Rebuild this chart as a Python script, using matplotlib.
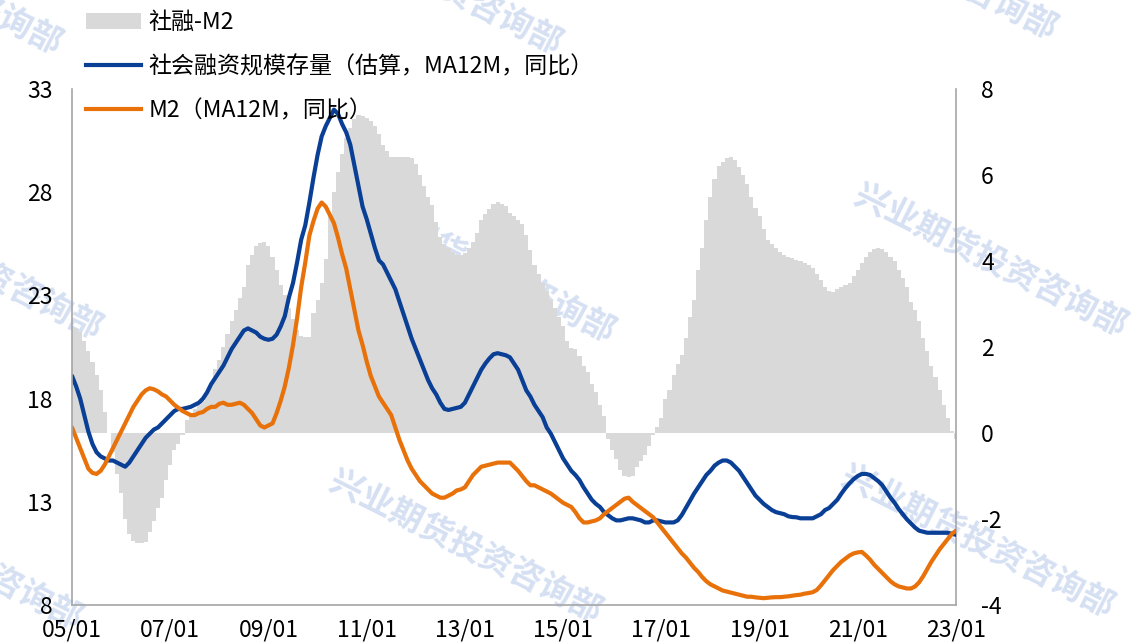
import matplotlib
matplotlib.use("Agg")
import matplotlib.pyplot as plt
from matplotlib.patches import Patch
from matplotlib.lines import Line2D
import numpy as np

plt.rcParams['font.family'] = ['Noto Sans CJK SC', 'DejaVu Sans']
plt.rcParams['axes.unicode_minus'] = False

# Monthly data 2005-01 .. 2023-01
tsf_minus_m2 = [
    2.5, 2.45, 2.35, 2.15, 1.9, 1.65, 1.35, 1.0, 0.5, 0.0, -0.45, -0.95,
    -1.4, -2.0, -2.35, -2.5, -2.56, -2.55, -2.53, -2.3, -2.05, -1.74, -1.5, -1.1,
    -0.75, -0.4, -0.25, -0.05, 0.3, 0.45, 0.55, 0.65, 0.75, 0.95, 1.1, 1.5,
    1.7, 2.0, 2.3, 2.6, 2.85, 3.14, 3.4, 3.9, 4.14, 4.35, 4.42, 4.44,
    4.35, 4.1, 3.8, 3.45, 3.2, 2.9, 2.65, 2.4, 2.25, 2.23, 2.23, 2.8,
    3.1, 3.5, 4.05, 5.1, 5.6, 6.07, 6.5, 6.85, 7.1, 7.3, 7.4, 7.38,
    7.33, 7.25, 7.15, 6.95, 6.7, 6.55, 6.42, 6.42, 6.42, 6.42, 6.42, 6.4,
    6.25, 6.0, 5.75, 5.5, 5.3, 4.9, 4.55, 4.4, 4.3, 4.2, 4.14, 4.15,
    4.19, 4.3, 4.44, 4.65, 4.95, 5.1, 5.22, 5.32, 5.37, 5.33, 5.28, 5.12,
    5.05, 4.95, 4.85, 4.6, 4.25, 3.9, 3.7, 3.5, 3.3, 3.1, 2.9, 2.7,
    2.5, 2.15, 1.98, 1.95, 1.8, 1.55, 1.42, 1.15, 0.95, 0.65, 0.4, -0.15,
    -0.4, -0.6, -0.85, -1.0, -1.02, -1.0, -0.8, -0.65, -0.5, -0.3, -0.05, 0.15,
    0.35, 0.8, 1.0, 1.35, 1.6, 1.81, 2.2, 2.7, 3.1, 3.8, 4.3, 4.95,
    5.5, 5.9, 6.2, 6.3, 6.4, 6.42, 6.35, 6.18, 6.0, 5.8, 5.5, 5.23,
    5.05, 4.75, 4.5, 4.4, 4.3, 4.22, 4.15, 4.1, 4.07, 4.03, 4.0, 3.95,
    3.9, 3.84, 3.7, 3.55, 3.4, 3.3, 3.28, 3.35, 3.4, 3.44, 3.5, 3.65,
    3.8, 3.95, 4.1, 4.2, 4.28, 4.3, 4.27, 4.2, 4.1, 4.0, 3.8, 3.6,
    3.4, 3.05, 2.85, 2.6, 2.2, 1.9, 1.55, 1.3, 1.0, 0.65, 0.35, 0.05,
    -0.15,
]

tsf_stock = [
    19.1, 18.6, 18.0, 17.2, 16.4, 15.8, 15.4, 15.2, 15.1, 15.0, 15.0, 14.9,
    14.8, 14.7, 14.9, 15.2, 15.5, 15.8, 16.1, 16.3, 16.5, 16.6, 16.8, 17.0,
    17.2, 17.4, 17.5, 17.5, 17.55, 17.6, 17.7, 17.8, 18.0, 18.3, 18.7, 19.0,
    19.3, 19.6, 20.0, 20.4, 20.7, 21.0, 21.3, 21.4, 21.3, 21.2, 21.0, 20.9,
    20.85, 20.9, 21.1, 21.5, 22.0, 22.9, 23.6, 24.6, 25.7, 26.4, 27.5, 28.7,
    29.8, 30.7, 31.2, 31.6, 32.0, 31.8, 31.3, 30.9, 30.3, 29.3, 28.3, 27.3,
    26.7, 26.0, 25.3, 24.7, 24.5, 24.1, 23.7, 23.3, 22.7, 22.1, 21.5, 20.9,
    20.4, 19.9, 19.4, 18.9, 18.5, 18.2, 17.8, 17.5, 17.45, 17.5, 17.55, 17.6,
    17.8, 18.2, 18.6, 19.0, 19.4, 19.7, 19.95, 20.15, 20.2, 20.15, 20.1, 20.0,
    19.7, 19.4, 18.9, 18.4, 18.1, 17.7, 17.4, 17.1, 16.6, 16.3, 15.9, 15.5,
    15.1, 14.8, 14.5, 14.3, 14.05, 13.7, 13.4, 13.1, 12.9, 12.75, 12.5, 12.35,
    12.2, 12.1, 12.1, 12.15, 12.2, 12.2, 12.15, 12.1, 12.0, 12.0, 12.1, 12.1,
    12.05, 12.0, 12.0, 12.0, 12.1, 12.36, 12.7, 13.05, 13.4, 13.7, 14.0, 14.3,
    14.5, 14.75, 14.9, 15.0, 15.0, 14.9, 14.7, 14.5, 14.2, 13.9, 13.6, 13.3,
    13.1, 12.9, 12.75, 12.6, 12.5, 12.45, 12.4, 12.3, 12.26, 12.25, 12.2, 12.2,
    12.2, 12.2, 12.3, 12.4, 12.6, 12.7, 12.9, 13.1, 13.4, 13.67, 13.9, 14.1,
    14.25, 14.35, 14.35, 14.3, 14.15, 14.0, 13.8, 13.5, 13.2, 12.95, 12.65, 12.4,
    12.15, 11.95, 11.75, 11.6, 11.55, 11.5, 11.5, 11.5, 11.5, 11.5, 11.5, 11.45,
    11.4,
]

m2 = [
    16.6, 16.1, 15.6, 15.1, 14.6, 14.4, 14.35, 14.5, 14.8, 15.2, 15.6, 16.0,
    16.4, 16.8, 17.2, 17.6, 17.9, 18.2, 18.4, 18.5, 18.45, 18.35, 18.2, 18.1,
    17.9, 17.7, 17.55, 17.4, 17.3, 17.2, 17.2, 17.3, 17.35, 17.5, 17.6, 17.6,
    17.75, 17.8, 17.7, 17.7, 17.75, 17.8, 17.7, 17.5, 17.3, 17.0, 16.7, 16.6,
    16.7, 16.8, 17.3, 17.9, 18.6, 19.5, 20.6, 21.9, 23.4, 24.6, 25.9, 26.6,
    27.2, 27.5, 27.3, 26.9, 26.5, 25.8, 25.0, 24.3, 23.3, 22.3, 21.3, 20.6,
    19.8, 19.1, 18.6, 18.1, 17.8, 17.5, 17.2, 16.6, 16.0, 15.5, 15.0, 14.6,
    14.3, 14.0, 13.8, 13.6, 13.4, 13.3, 13.2, 13.2, 13.3, 13.4, 13.55, 13.6,
    13.7, 14.0, 14.3, 14.5, 14.7, 14.75, 14.8, 14.85, 14.9, 14.9, 14.9, 14.9,
    14.7, 14.5, 14.25, 14.0, 13.8, 13.8, 13.7, 13.6, 13.5, 13.4, 13.25, 13.1,
    12.95, 12.85, 12.75, 12.5, 12.2, 12.0, 12.0, 12.05, 12.1, 12.2, 12.4, 12.55,
    12.7, 12.85, 13.0, 13.15, 13.2, 13.0, 12.85, 12.7, 12.55, 12.4, 12.25, 12.0,
    11.75, 11.5, 11.25, 11.0, 10.75, 10.5, 10.3, 10.05, 9.8, 9.6, 9.35, 9.15,
    9.0, 8.9, 8.8, 8.7, 8.65, 8.6, 8.55, 8.5, 8.45, 8.4, 8.4, 8.37,
    8.35, 8.33, 8.35, 8.37, 8.38, 8.38, 8.4, 8.42, 8.45, 8.48, 8.5, 8.55,
    8.58, 8.62, 8.73, 8.95, 9.2, 9.45, 9.7, 9.9, 10.1, 10.25, 10.4, 10.5,
    10.55, 10.57, 10.4, 10.2, 9.95, 9.75, 9.55, 9.35, 9.15, 9.0, 8.9, 8.85,
    8.8, 8.8, 8.9, 9.1, 9.4, 9.75, 10.1, 10.4, 10.7, 10.95, 11.2, 11.45,
    11.6,
]

x_tick_labels = ['05/01', '07/01', '09/01', '11/01', '13/01', '15/01',
                 '17/01', '19/01', '21/01', '23/01']
left_ticks = [8, 13, 18, 23, 28, 33]
right_ticks = [-4, -2, 0, 2, 4, 6, 8]

labels = ['社融-M2', '社会融资规模存量（估算，MA12M，同比）', 'M2（MA12M，同比）']

BAR_C = '#d9d9d9'
BLUE = '#0a3f96'
ORANGE = '#e8710a'
SPINE = '#a6a6a6'

W, H = 1137, 644
fig = plt.figure(figsize=(W / 100, H / 100), dpi=100)
ax = fig.add_axes([72 / W, 1 - 605 / H, (956 - 72) / W, (605 - 89) / H])
ax2 = ax.twinx()
ax.set_zorder(ax2.get_zorder() + 1)
ax.patch.set_visible(False)
ax2.patch.set_visible(False)

n = len(m2)
idx = np.arange(n)

ax2.bar(idx, tsf_minus_m2, width=1.0, color=BAR_C, linewidth=0)
ax.plot(idx, tsf_stock, color=BLUE, lw=3.0, solid_capstyle='round')
ax.plot(idx, m2, color=ORANGE, lw=3.0, solid_capstyle='round')

ax.set_xlim(0, n - 1)
ax.set_ylim(8, 33)
ax2.set_ylim(-4, 8)
ax.set_yticks(left_ticks)
ax2.set_yticks(right_ticks)
ax.set_xticks(np.arange(0, n, 24))
ax.set_xticklabels(x_tick_labels)

for a in (ax, ax2):
    for s in a.spines.values():
        s.set_visible(False)
ax.spines['left'].set_visible(True)
ax.spines['bottom'].set_visible(True)
ax2.spines['right'].set_visible(True)
for s in (ax.spines['left'], ax.spines['bottom'], ax2.spines['right']):
    s.set_color(SPINE)
    s.set_linewidth(1.2)

ax.tick_params(axis='y', length=0, pad=14, labelsize=16.5)
ax.tick_params(axis='x', length=0, pad=10, labelsize=16.5)
ax2.tick_params(axis='y', length=0, pad=18, labelsize=16.5)

handles = [Patch(facecolor=BAR_C, edgecolor='none'),
           Line2D([], [], color=BLUE, lw=3.0),
           Line2D([], [], color=ORANGE, lw=3.0)]
leg = fig.legend(handles, labels, loc='upper left',
                 bbox_to_anchor=(86 / W, 1 - 11 / H), frameon=False,
                 fontsize=16.6, handlelength=2.4, handletextpad=0.3,
                 labelspacing=0.92, borderpad=0, borderaxespad=0)
leg.set_zorder(10)

# watermark
wm = '兴业期货投资咨询部'
centers = [(-75, -20), (425, -20), (920, -35),
           (-35, 265), (478, 268), (990, 262),
           (-55, 555), (465, 548), (977, 543)]
for cx, cy in centers:
    fig.text(cx / W, 1 - cy / H, wm, fontsize=24, fontweight='bold',
             color='#d6e0f3', rotation=-26.6, rotation_mode='anchor',
             ha='center', va='center', zorder=-5)

fig.savefig('out.png', dpi=100)
